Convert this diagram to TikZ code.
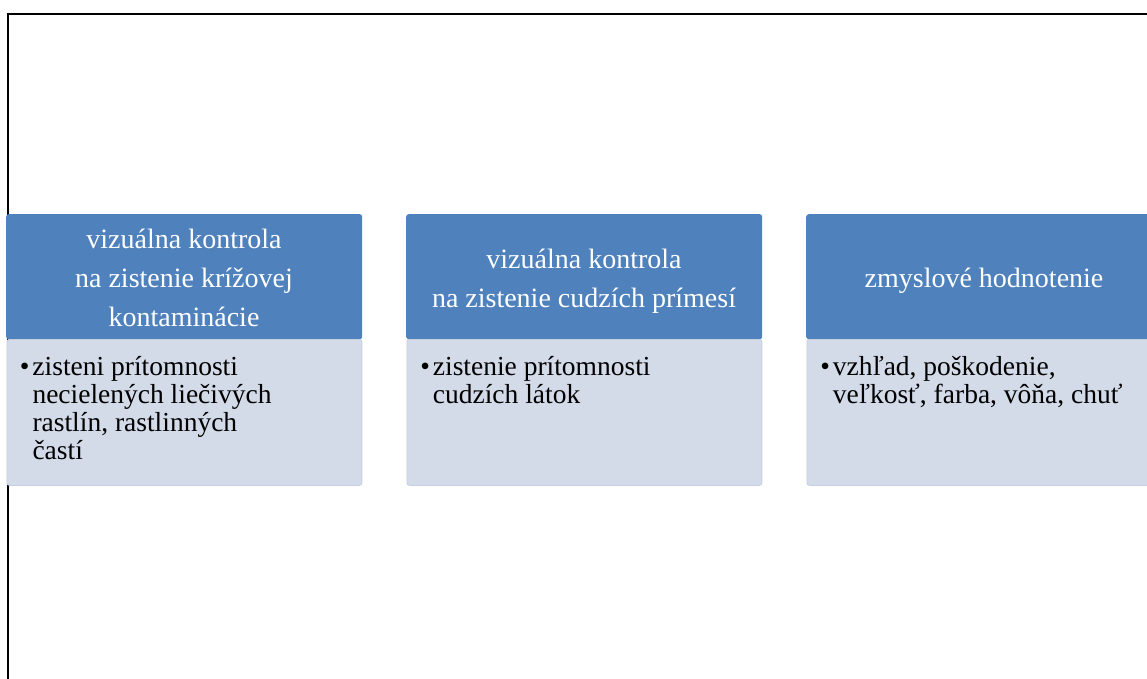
\documentclass[tikz,border=0pt]{standalone}
\usepackage{fontspec}
\setmainfont{Liberation Serif}
\definecolor{headblue}{HTML}{4F81BD}
\definecolor{bodyfill}{HTML}{D3DAE8}
\definecolor{bodyedge}{HTML}{C6CFE1}
\begin{document}
\begin{tikzpicture}[x=1pt,y=-1pt,
  frameline/.style={draw=black, line width=1.6pt},
  headbox/.style={fill=headblue, rounded corners=2.5pt, inner sep=0pt, anchor=north west,
    minimum width=356pt, minimum height=125pt},
  bodybox/.style={fill=bodyfill, draw=bodyedge, line width=0.8pt, rounded corners=2.5pt,
    inner sep=0pt, anchor=north west, minimum width=355pt, minimum height=146pt},
  headtext/.style={anchor=base, align=center, text=white, inner sep=0pt,
    font=\fontsize{28}{39}\selectfont},
  bodytext/.style={anchor=base west, align=left, inner sep=0pt,
    font=\fontsize{27.5}{28}\selectfont}]
\useasboundingbox (0,0) rectangle (1147,678);
\clip (0,0) rectangle (1147,678);

% outer frame (left and top edges)
\coordinate (fbl) at (7.8,680);
\coordinate (ftl) at (7.8,14);
\coordinate (ftr) at (1150,14);
\draw[frameline] (fbl) -- (ftl) -- (ftr);

% three columns: header bar above a bullet body
\node[headbox] (h1) at (6,214) {};
\node[bodybox] (b1) at (6.5,339) {};
\node[headbox] (h2) at (406,214) {};
\node[bodybox] (b2) at (406.5,339) {};
\node[headbox] (h3) at (806,214) {};
\node[bodybox] (b3) at (806.5,339) {};

% header captions (anchored on the baseline of their last line)
\node[headtext] (t1) at (184,326.5) {vizuálna kontrola\\na zistenie krížovej\\kontaminácie};
\node[headtext] (t2) at (584,307.3) {vizuálna kontrola\\na zistenie cudzích prímesí};
\node[headtext] (t3) at (984,287.3) {zmyslové hodnotenie};

% bullet texts (anchored on the baseline of their last line)
\node[bodytext] (p1) at (32.3,459) {\llap{•\hspace{3pt}}zisteni prítomnosti\\necielených liečivých\\rastlín, rastlinných\\častí};
\node[bodytext] (p2) at (432.7,403.5) {\llap{•\hspace{3pt}}zistenie prítomnosti\\cudzích látok};
\node[bodytext] (p3) at (832.7,403.5) {\llap{•\hspace{3pt}}vzhľad, poškodenie,\\veľkosť, farba, vôňa, chuť};
\end{tikzpicture}
\end{document}
